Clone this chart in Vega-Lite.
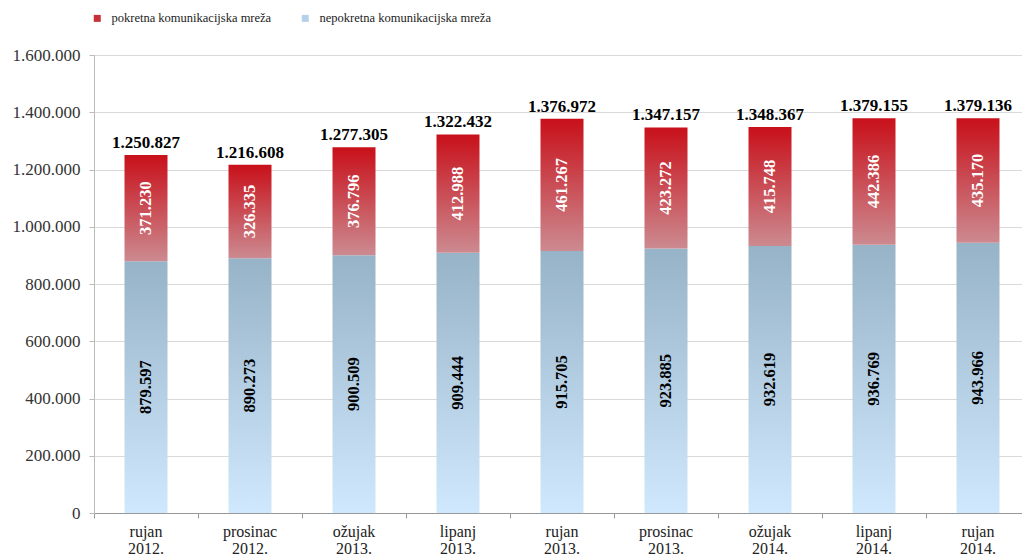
{
  "$schema": "https://vega.github.io/schema/vega-lite/v6.json",
  "width": 928,
  "height": 458,
  "autosize": {"type": "none"},
  "padding": {"left": 94, "top": 55, "right": 0, "bottom": 42},
  "config": {
    "locale": {"number": {"decimal": ",", "thousands": ".", "grouping": [3], "currency": ["", ""]}},
    "view": {"stroke": null},
    "font": "Liberation Serif",
    "axis": {"labelFont": "Liberation Serif"},
    "legend": {"labelFont": "Liberation Serif", "labelFontSize": 13},
    "text": {"font": "Liberation Serif"}
  },
  "layer": [
    {
      "data": {
        "values": [
          {"period": "rujan 2012.", "fixed": 879597, "mobile": 371230, "total": 1250827},
          {"period": "prosinac 2012.", "fixed": 890273, "mobile": 326335, "total": 1216608},
          {"period": "ožujak 2013.", "fixed": 900509, "mobile": 376796, "total": 1277305},
          {"period": "lipanj 2013.", "fixed": 909444, "mobile": 412988, "total": 1322432},
          {"period": "rujan 2013.", "fixed": 915705, "mobile": 461267, "total": 1376972},
          {"period": "prosinac 2013.", "fixed": 923885, "mobile": 423272, "total": 1347157},
          {"period": "ožujak 2014.", "fixed": 932619, "mobile": 415748, "total": 1348367},
          {"period": "lipanj 2014.", "fixed": 936769, "mobile": 442386, "total": 1379155},
          {"period": "rujan 2014.", "fixed": 943966, "mobile": 435170, "total": 1379136}
        ]
      },
      "encoding": {
        "x": {
          "field": "period",
          "type": "nominal",
          "sort": null,
          "title": null,
          "scale": {"range": [0, 936], "paddingInner": 0, "paddingOuter": 0},
          "axis": {
            "labelAngle": 0,
            "labelExpr": "split(datum.label, ' ')",
            "labelFont": "Liberation Serif",
            "labelFontSize": 16,
            "labelColor": "#222222",
            "labelLineHeight": 17,
            "labelPadding": 5,
            "bandPosition": 0,
            "tickSize": 5,
            "tickColor": "#999999",
            "domainColor": "#999999",
            "grid": false
          }
        }
      },
      "layer": [
        {
          "mark": {
            "type": "bar",
            "size": 43,
            "fill": {
              "gradient": "linear", "x1": 0, "y1": 0, "x2": 0, "y2": 1,
              "stops": [{"offset": 0, "color": "#97b3c8"}, {"offset": 1, "color": "#d0e8fd"}]
            }
          },
          "encoding": {
            "y": {
              "field": "fixed",
              "type": "quantitative",
              "title": null,
              "scale": {"domain": [0, 1600000], "nice": false},
              "axis": {
                "values": [0, 200000, 400000, 600000, 800000, 1000000, 1200000, 1400000, 1600000],
                "format": ",d",
                "labelFont": "Liberation Serif",
                "labelFontSize": 17,
                "labelColor": "#333333",
                "labelPadding": 9,
                "tickSize": 5,
                "tickColor": "#bbbbbb",
                "domainColor": "#bbbbbb",
                "gridColor": "#d9d9d9"
              }
            }
          }
        },
        {
          "mark": {
            "type": "bar",
            "size": 43,
            "fill": {
              "gradient": "linear", "x1": 0, "y1": 0, "x2": 0, "y2": 1,
              "stops": [{"offset": 0, "color": "#c8101a"}, {"offset": 1, "color": "#cc8a90"}]
            }
          },
          "encoding": {
            "y": {"field": "fixed", "type": "quantitative", "title": null},
            "y2": {"field": "total"}
          }
        },
        {
          "mark": {"type": "text", "baseline": "bottom", "dy": -3, "fontWeight": "bold", "fontSize": 17, "color": "#000000", "font": "Liberation Serif"},
          "encoding": {
            "y": {"field": "total", "type": "quantitative", "title": null},
            "text": {"field": "total", "type": "quantitative", "format": ",d"}
          }
        },
        {
          "mark": {
            "type": "text", "angle": 270, "align": "center", "baseline": "middle",
            "dx": {"expr": "(scale('y', datum.fixed) - scale('y', datum.total)) / 2"},
            "fontWeight": "bold", "fontSize": 16.5, "color": "#ffffff", "font": "Liberation Serif"
          },
          "encoding": {
            "y": {"field": "fixed", "type": "quantitative", "title": null},
            "text": {"field": "mobile", "type": "quantitative", "format": ",d"}
          }
        },
        {
          "mark": {"type": "text", "angle": 270, "align": "center", "baseline": "middle", "fontWeight": "bold", "fontSize": 16.5, "color": "#000000", "font": "Liberation Serif"},
          "encoding": {
            "y": {"datum": 0, "type": "quantitative", "title": null},
            "yOffset": {"field": "fixed", "type": "quantitative", "scale": {"domain": [0, 1600000], "range": [0, -229]}},
            "text": {"field": "fixed", "type": "quantitative", "format": ",d"}
          }
        }
      ]
    },
    {
      "data": {"values": [{"s": "pokretna komunikacijska mreža"}, {"s": "nepokretna komunikacijska mreža"}]},
      "mark": {"type": "point", "filled": true, "opacity": 0, "shape": "square"},
      "encoding": {
        "color": {
          "field": "s",
          "type": "nominal",
          "scale": {"domain": ["pokretna komunikacijska mreža", "nepokretna komunikacijska mreža"], "range": ["#c83038", "#b5d1ea"]},
          "legend": {
            "title": null,
            "orient": "none",
            "legendX": -3,
            "legendY": -43,
            "direction": "horizontal",
            "symbolType": "square",
            "symbolSize": 49,
            "symbolOpacity": 1,
            "symbolStrokeWidth": 0,
            "labelFont": "Liberation Serif",
            "labelFontSize": 12.5,
            "labelColor": "#222222",
            "labelLimit": 0,
            "labelOffset": 8,
            "columnPadding": 27
          }
        }
      }
    }
  ]
}
